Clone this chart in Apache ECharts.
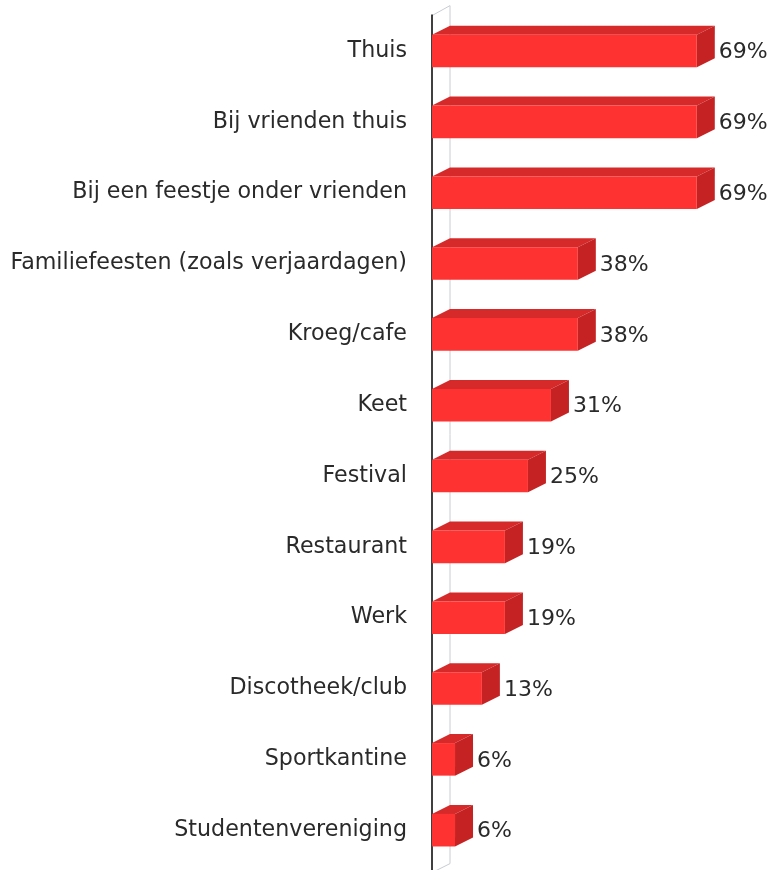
<!DOCTYPE html>
<html>
<head>
<meta charset="utf-8">
<script src="https://cdn.jsdelivr.net/npm/echarts@6/dist/echarts.min.js"></script>
<style>html,body{margin:0;padding:0;background:#fff}#c{width:773px;height:870px}</style>
</head>
<body>
<div id="c"></div>
<script>
const categories = ['Thuis','Bij vrienden thuis','Bij een feestje onder vrienden','Familiefeesten (zoals verjaardagen)','Kroeg/cafe','Keet','Festival','Restaurant','Werk','Discotheek/club','Sportkantine','Studentenvereniging'];
const values = [69,69,69,38,38,31,25,19,19,13,6,6];
const labels = ['69%','69%','69%','38%','38%','31%','25%','19%','19%','13%','6%','6%'];

const DX = 18, DY = 9;
const chart = echarts.init(document.getElementById('c'));

function renderBar(params, api){
  const v = api.value(0), idx = api.value(1);
  const p0 = api.coord([0, idx]), p1 = api.coord([v, idx]);
  const band = api.size([0, 1])[1];
  const h = band * 0.46;
  const x0 = p0[0], x1 = p1[0], yT = p0[1] - h/2, yB = p0[1] + h/2;
  return {type:'group', children:[
    {type:'polygon', shape:{points:[[x0,yT],[x0+DX,yT-DY],[x1+DX,yT-DY],[x1,yT]]}, style:{fill:'#d62a2a'}},
    {type:'polygon', shape:{points:[[x1,yT],[x1+DX,yT-DY],[x1+DX,yB-DY],[x1,yB]]}, style:{fill:'#c52323'}},
    {type:'rect', shape:{x:x0,y:yT,width:x1-x0,height:h}, style:{fill:'#ff3232'}},
    {type:'text', x:x1+DX+4, y:p0[1]+1.5, style:{text:labels[params.dataIndex], fill:'#2a2a2a', font:'22px "DejaVu Sans"', verticalAlign:'middle', align:'left'}}
  ]};
}

function renderWall(params, api){
  const cs = params.coordSys;
  const x = cs.x, y = cs.y, H = cs.height;
  const st = {stroke:'#c8ccd2', lineWidth:1, fill:null};
  return {type:'group', children:[
    {type:'line', shape:{x1:x+DX, y1:y-DY-1, x2:x+DX, y2:y+H-2}, style:st},
    {type:'line', shape:{x1:x, y1:y, x2:x+DX, y2:y-DY-1}, style:st},
    {type:'line', shape:{x1:x+DX, y1:y+H-2, x2:x, y2:y+H+7}, style:st},
    {type:'line', shape:{x1:x, y1:y-1, x2:x, y2:y+H+10}, style:{stroke:'#000', lineWidth:1.5}}
  ]};
}

chart.setOption({
  animation:false,
  grid:{left:432, right:34, top:15.6, bottom:4.4, containLabel:false},
  xAxis:{type:'value', min:0, max:80, show:false},
  yAxis:{type:'category', inverse:true, data:categories,
    axisLine:{show:false}, axisTick:{show:false}, splitLine:{show:false},
    axisLabel:{margin:25, fontSize:22.2, color:'#2a2a2a', fontFamily:'DejaVu Sans', padding:[0,0,6,0]}},
  series:[
    {type:'custom', renderItem:renderWall, data:[[0,0]], encode:{x:0,y:1}, z:1, silent:true},
    {type:'custom', renderItem:renderBar, data:values.map((v,i)=>[v,i]), encode:{x:0,y:1}, z:2}
  ]
});
</script>
</body>
</html>
